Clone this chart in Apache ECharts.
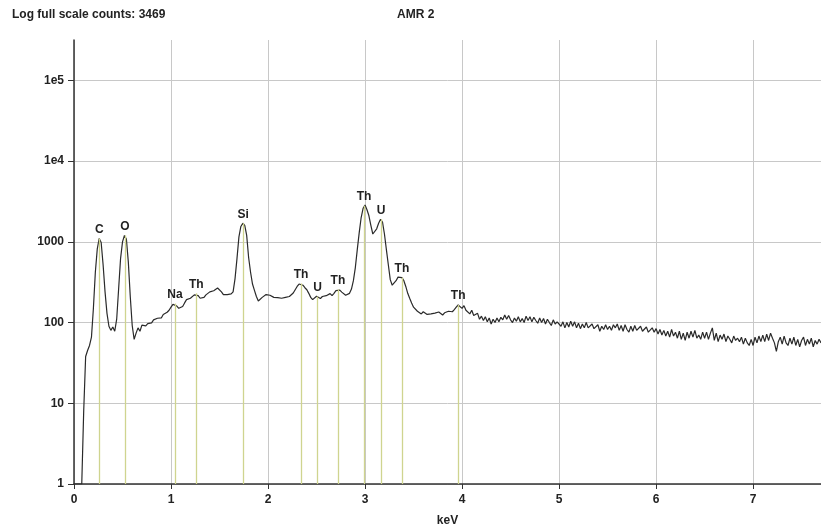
<!DOCTYPE html>
<html>
<head>
<meta charset="utf-8">
<title>AMR 2</title>
<script src="https://cdn.jsdelivr.net/npm/echarts@6/dist/echarts.min.js"></script>
<style>
    html, body { margin: 0; padding: 0; background: #fff; }
    #spectrum_chart { width: 821px; height: 532px; }
</style>
</head>
<body>
<div id="spectrum_chart"></div>
<script>
// channel calibration (keV)
var chStart = 0;
var chWidth = 0.02;

// counts per channel, 0.00 .. 7.70 keV
var counts = [
    1, 1, 1, 1, 1, 8, 38, 45, 52, 66, 150, 420, 820, 1100, 980, 520, 240, 130, 90, 80, 88, 78, 110, 260, 620,
    1000, 1200, 1080, 560, 210, 92, 62, 74, 86, 78, 93, 96, 91, 97, 101, 99, 108, 104, 113, 119, 114, 126, 121, 134, 142,
    155, 168, 172, 160, 150, 142, 158, 175, 192, 185, 200, 208, 220, 230, 215, 200, 192, 205, 220, 232, 240, 236, 248, 262, 268,
    258, 240, 222, 215, 222, 230, 226, 240, 350, 620, 1150, 1550, 1700, 1600, 1200, 640, 420, 300, 250, 210, 185, 190, 205, 212, 222,
    228, 218, 210, 205, 198, 204, 196, 200, 193, 205, 198, 210, 218, 232, 255, 280, 300, 305, 290, 270, 255, 230, 205, 192, 200,
    212, 205, 198, 210, 206, 215, 222, 228, 215, 230, 248, 258, 252, 238, 225, 218, 222, 230, 260, 330, 480, 800, 1300, 2000, 2600,
    2850, 2500, 2100, 1600, 1250, 1220, 1450, 1700, 1900, 1750, 1250, 800, 520, 340, 290, 300, 330, 365, 375, 360, 330, 280, 230, 200, 175,
    155, 148, 138, 132, 128, 136, 130, 126, 133, 128, 124, 131, 127, 135, 129, 124, 132, 128, 138, 142, 136, 145, 155, 165, 158,
    150, 162, 142, 136, 128, 142, 122, 118, 130, 110, 120, 106, 118, 102, 114, 96, 110, 100, 114, 102, 116, 108, 124, 110, 122,
    108, 100, 114, 104, 118, 102, 112, 100, 120, 106, 118, 102, 116, 106, 98, 114, 100, 112, 96, 110, 100, 92, 108, 96, 102,
    106, 90, 102, 86, 100, 88, 104, 90, 102, 86, 98, 84, 96, 86, 100, 86, 82, 96, 84, 80, 94, 78, 90, 82, 94,
    82, 90, 80, 94, 86, 96, 80, 92, 78, 94, 82, 76, 90, 78, 92, 80, 76, 90, 78, 74, 88, 76, 72, 86, 76,
    84, 72, 82, 70, 80, 68, 78, 66, 82, 68, 76, 64, 78, 62, 74, 60, 76, 64, 78, 66, 80, 64, 70, 62, 76,
    64, 76, 62, 74, 86, 60, 74, 58, 70, 62, 72, 58, 68, 62, 56, 68, 60, 64, 58, 66, 54, 64, 56, 52, 62,
    52, 66, 56, 68, 58, 70, 58, 72, 60, 74, 64, 56, 44, 58, 66, 54, 68, 56, 52, 64, 54, 66, 52, 62, 50,
    60, 66, 52, 62, 54, 64, 50, 60, 54, 62, 56
];

// element markers
var markNames = ["C", "O", "Na", "Th", "Si", "Th", "U", "Th", "Th", "U", "Th", "Th"];
var markKeV = [0.26, 0.525, 1.04, 1.26, 1.745, 2.34, 2.51, 2.72, 2.99, 3.165, 3.38, 3.96];
var markTop = [1100, 1200, 172, 230, 1700, 305, 210, 258, 2800, 1900, 360, 165];

var xTicks = [0, 1, 2, 3, 4, 5, 6, 7];

var spectrum = [];
for (var i = 0; i < counts.length; i++) {
    spectrum.push([+(chStart + i * chWidth).toFixed(2), counts[i]]);
}

var markLines = [];
for (var j = 0; j < markNames.length; j++) {
    markLines.push([
        { coord: [markKeV[j], 1] },
        { coord: [markKeV[j], markTop[j]], name: markNames[j] }
    ]);
}

var txt = { fontFamily: "Liberation Sans", fontSize: 12, fontWeight: "bold", color: "#222" };

var chart = echarts.init(document.getElementById("spectrum_chart"));
var option = {
    animation: false,
    backgroundColor: "#fff",
    title: [
        { text: "Log full scale counts: 3469", left: 7, top: 4, textStyle: txt },
        { text: "AMR 2", left: 392, top: 4, textStyle: txt }
    ],
    grid: {
        left: 74,
        right: 0,
        top: 40,
        bottom: 42
    },
    xAxis: {
        type: "value",
        min: 0,
        max: 7.7,
        interval: 1,
        name: "keV",
        nameLocation: "middle",
        nameGap: 31,
        nameTextStyle: txt,
        axisLine: { lineStyle: { color: "#333", width: 1.5 } },
        axisTick: { show: true, length: 5, lineStyle: { color: "#333" } },
        axisLabel: {
            margin: 10,
            showMaxLabel: false,
            fontFamily: "Liberation Sans",
            fontSize: 12,
            fontWeight: "bold",
            color: "#222",
            formatter: function (v) {
                return xTicks.indexOf(Math.round(v)) >= 0 ? String(Math.round(v)) : "";
            }
        },
        splitLine: { show: true, showMaxLine: false, lineStyle: { color: "#c8c8c8", width: 1 } }
    },
    yAxis: {
        type: "log",
        logBase: 10,
        min: 1,
        max: 316228,
        axisLine: { show: true, lineStyle: { color: "#333", width: 1.5 } },
        axisTick: { show: true, length: 6, lineStyle: { color: "#333" } },
        axisLabel: {
            margin: 10,
            showMaxLabel: false,
            fontFamily: "Liberation Sans",
            fontSize: 12,
            fontWeight: "bold",
            color: "#222",
            formatter: function (v) {
                var e = Math.round(Math.log10(v));
                return e >= 4 ? "1e" + e : String(Math.pow(10, e));
            }
        },
        splitLine: { show: true, showMaxLine: false, lineStyle: { color: "#c8c8c8", width: 1 } }
    },
    series: [
        {
            name: "markers",
            type: "line",
            data: [],
            z: 1,
            silent: true,
            markLine: {
                silent: true,
                symbol: ["none", "none"],
                lineStyle: { type: "solid", color: "#cfd48f", width: 1.3 },
                label: {
                    show: true,
                    position: "end",
                    distance: 3,
                    formatter: "{b}",
                    fontFamily: "Liberation Sans",
                    fontSize: 12,
                    fontWeight: "bold",
                    color: "#222"
                },
                data: markLines
            }
        },
        {
            name: "spectrum",
            type: "line",
            data: spectrum,
            z: 3,
            showSymbol: false,
            symbol: "none",
            lineStyle: { color: "#2a2a2a", width: 1.2 }
        }
    ]
};
chart.setOption(option);
</script>
</body>
</html>
